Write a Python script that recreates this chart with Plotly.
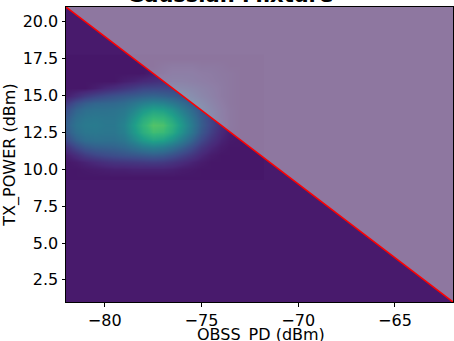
import plotly.graph_objects as go

# ---- data ----
x_centers = [-82.0, -81.5, -81.0, -80.5, -80.0, -79.5, -79.0, -78.5, -78.0, -77.5, -77.0,
             -76.5, -76.0, -75.5, -75.0, -74.5, -74.0, -73.5, -73.0, -72.5, -72.0]
y_centers = [17.5, 17.0, 16.5, 16.0, 15.5, 15.0, 14.5, 14.0, 13.5, 13.0, 12.5, 12.0, 11.5, 11.0, 10.5, 10.0, 9.5]
counts = [
    [0, 0, 0, 0, 0, 0, 0, 0, 0, 0, 0, 0, 0, 0, 0, 0, 0, 0, 0, 0, 0],
    [0, 0, 0, 0, 0, 0, 0, 0, 0, 0, 0.3, 0.5, 0.5, 0.5, 0.3, 0.3, 0.2, 0, 0, 0, 0],
    [0, 0, 0, 0, 0, 0, 0, 0, 0, 0.3, 0.5, 0.8, 0.8, 0.8, 0.6, 0.5, 0.3, 0.2, 0, 0, 0],
    [0, 0, 0, 0, 0, 0, 0.3, 0.5, 0.8, 1.0, 1.2, 1.2, 1.2, 1.0, 0.8, 0.6, 0.4, 0.2, 0, 0, 0],
    [0, 0, 0, 0.3, 0.7, 1.0, 1.4, 1.8, 2.2, 2.3, 2.3, 2.2, 2.0, 1.7, 1.3, 0.9, 0.5, 0.2, 0, 0, 0],
    [0.3, 1.0, 1.7, 2.2, 2.6, 2.9, 3.2, 3.5, 3.8, 4.0, 3.8, 3.5, 3.0, 2.4, 1.7, 1.1, 0.5, 0.2, 0, 0, 0],
    [1.6, 2.8, 3.5, 3.9, 4.0, 4.1, 4.4, 5.0, 5.6, 6.0, 5.8, 5.2, 4.3, 3.3, 2.4, 1.5, 0.7, 0.2, 0, 0, 0],
    [2.7, 3.9, 4.5, 4.7, 4.7, 4.8, 5.1, 6.0, 7.1, 7.8, 7.6, 6.8, 5.5, 4.2, 3.0, 1.9, 0.9, 0.3, 0, 0, 0],
    [3.3, 4.5, 5.0, 5.1, 5.0, 5.0, 5.5, 6.9, 8.3, 9.2, 9.0, 8.0, 6.5, 4.9, 3.4, 2.1, 1.0, 0.3, 0, 0, 0],
    [3.6, 4.8, 5.2, 5.3, 5.1, 5.1, 5.8, 7.4, 8.9, 10.0, 9.8, 8.7, 7.0, 5.2, 3.5, 2.2, 1.0, 0.3, 0, 0, 0],
    [3.3, 4.5, 5.0, 5.1, 5.0, 5.0, 5.6, 7.1, 8.5, 9.5, 9.3, 8.3, 6.6, 4.9, 3.2, 1.9, 0.8, 0.2, 0, 0, 0],
    [2.4, 3.7, 4.4, 4.6, 4.6, 4.6, 5.0, 6.1, 7.2, 7.9, 7.6, 6.7, 5.3, 3.8, 2.4, 1.3, 0.5, 0.1, 0, 0, 0],
    [1.2, 2.4, 3.2, 3.6, 3.7, 3.8, 4.1, 4.7, 5.3, 5.7, 5.4, 4.7, 3.7, 2.6, 1.5, 0.7, 0.2, 0, 0, 0, 0],
    [0.3, 1.0, 1.7, 2.2, 2.5, 2.7, 2.9, 3.1, 3.3, 3.5, 3.3, 2.8, 2.1, 1.4, 0.7, 0.2, 0, 0, 0, 0, 0],
    [0, 0.2, 0.5, 0.8, 1.1, 1.3, 1.4, 1.5, 1.6, 1.7, 1.6, 1.3, 0.9, 0.5, 0.2, 0, 0, 0, 0, 0, 0],
    [0, 0, 0.1, 0.2, 0.3, 0.4, 0.4, 0.5, 0.5, 0.5, 0.5, 0.4, 0.2, 0.1, 0, 0, 0, 0, 0, 0, 0],
    [0, 0, 0, 0, 0, 0, 0, 0, 0, 0, 0, 0, 0, 0, 0, 0, 0, 0, 0, 0, 0],
]
x_range = [-82, -62]
y_range = [1, 21]
x_ticks = [-80, -75, -70, -65]
y_ticks = [2.5, 5.0, 7.5, 10.0, 12.5, 15.0, 17.5, 20.0]
title_text = "Gaussian Mixture"
x_label = "OBSS_PD (dBm)"
y_label = "TX_POWER (dBm)"

FONT = "DejaVu Sans"
BG = "#481a6c"

fig = go.Figure()
fig.add_trace(go.Heatmap(
    x=x_centers, y=y_centers, z=counts,
    colorscale="Viridis", zmin=-0.97, zmax=14.2,
    zsmooth="best", showscale=False, hoverinfo="skip",
))

# threshold line from top-left corner to bottom-right corner, shaded region above it
line_x = [x_range[0], x_range[1]]
line_y = [y_range[1], y_range[0]]
fig.add_trace(go.Scatter(
    x=[x_range[0], x_range[1], x_range[1], x_range[0]],
    y=[y_range[1], y_range[1], y_range[0], y_range[1]],
    fill="toself", fillcolor="rgba(211,211,211,0.5)",
    mode="none", hoverinfo="skip", showlegend=False,
))
fig.add_trace(go.Scatter(
    x=line_x, y=line_y, mode="lines",
    line=dict(color="red", width=1.5),
    hoverinfo="skip", showlegend=False,
))

fig.add_annotation(
    text="<b>" + title_text + "</b>", xref="paper", yref="paper",
    x=(230 - 66) / 387, y=1, xanchor="center", yanchor="bottom", yshift=-2,
    showarrow=False, font=dict(family=FONT, size=21, color="black"),
)
# x-axis label placed explicitly below the tick labels
fig.add_annotation(
    text=x_label, xref="paper", yref="paper",
    x=0.504, y=0, xanchor="center", yanchor="top", yshift=-21,
    showarrow=False, font=dict(family=FONT, size=16, color="black"),
)

axis_common = dict(
    showgrid=False, zeroline=False, showline=True, linecolor="black", linewidth=1,
    mirror=True, ticks="outside", ticklen=3.5, tickwidth=1, tickcolor="black",
    tickfont=dict(family=FONT, size=16, color="black"), automargin=False,
)
fig.update_xaxes(range=x_range, tickvals=x_ticks, **axis_common)
fig.update_yaxes(range=y_range, tickvals=y_ticks, tickformat=".1f", **axis_common,
                 title=dict(text=y_label, font=dict(family=FONT, size=16, color="black"), standoff=4))

fig.update_layout(
    width=454, height=341,
    margin=dict(l=66, r=1, t=7, b=39),
    plot_bgcolor=BG, paper_bgcolor="white",
    showlegend=False,
)
fig.write_html("out.html")
